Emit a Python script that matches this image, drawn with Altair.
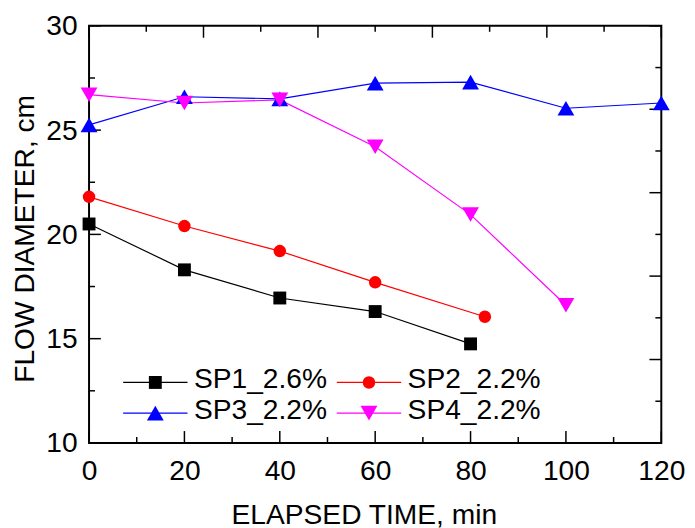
import altair as alt
import pandas as pd

# ---------------- data ----------------
sp1_time = [0, 20, 40, 60, 80]
sp1_diam = [20.5, 18.3, 16.95, 16.3, 14.75]
sp2_time = [0, 20, 40, 60, 83]
sp2_diam = [21.8, 20.4, 19.2, 17.7, 16.05]
sp3_time = [0, 20, 40, 60, 80, 100, 120]
sp3_diam = [25.25, 26.6, 26.5, 27.25, 27.3, 26.05, 26.3]
sp4_time = [0, 20, 40, 60, 80, 100]
sp4_diam = [26.7, 26.3, 26.45, 24.2, 20.95, 16.6]

series_names = ["SP1_2.6%", "SP2_2.2%", "SP3_2.2%", "SP4_2.2%"]

x_ticks_major = [0, 20, 40, 60, 80, 100, 120]
x_ticks_minor = [10, 30, 50, 70, 90, 110]
y_ticks_major = [10, 15, 20, 25, 30]
y_ticks_minor = [12.5, 17.5, 22.5, 27.5]
top_ticks_major = [0, 24, 48, 72, 96, 120]
top_ticks_minor = [12, 36, 60, 84, 108]
right_ticks_major = [10, 14, 18, 22, 26, 30]
right_ticks_minor = [12, 16, 20, 24, 28]

# ---------------- styles ----------------
colors = ["#000000", "#ff0000", "#0000ff", "#ff00ff"]
marker_shapes = ["square", "circle", "triangle-up", "triangle-down"]
marker_sizes = [170, 160, 290, 290]
W, H = 579, 422
FONT = "Liberation Sans"
FS = 28.5

# legend layout (in axis units, placed through the chart's own scales)
LEG_X0 = 13.9        # marker centre of first column (min)
LEG_COL_STEP = 44.8  # distance between columns (min)
LEG_HALF_LINE = 6.75 # half length of the legend line sample (min)
LEG_TEXT_GAP = 8.1   # marker centre -> label start (min)
LEG_Y0 = 12.9        # first row (cm)
LEG_ROW_STEP = 1.47  # row spacing (cm)

rows = []
for name, ts, ds in zip(series_names,
                        [sp1_time, sp2_time, sp3_time, sp4_time],
                        [sp1_diam, sp2_diam, sp3_diam, sp4_diam]):
    for t, d in zip(ts, ds):
        rows.append({"series": name, "time": t, "diam": d})
df = pd.DataFrame(rows)

leg_rows = []
for i, name in enumerate(series_names):
    cx = LEG_X0 + (i % 2) * LEG_COL_STEP
    cy = LEG_Y0 - (i // 2) * LEG_ROW_STEP
    leg_rows.append({"series": name, "mx": cx, "x0": cx - LEG_HALF_LINE,
                     "x1": cx + LEG_HALF_LINE, "tx": cx + LEG_TEXT_GAP, "ly": cy})
leg_df = pd.DataFrame(leg_rows)

xscale = alt.Scale(domain=[0, 120], nice=False, zero=False)
yscale = alt.Scale(domain=[10, 30], nice=False, zero=False)
color_scale = alt.Scale(domain=series_names, range=colors)

x_axis = alt.Axis(values=x_ticks_major, ticks=False, domain=False, grid=False,
                  labelFlush=False, labelFont=FONT, labelFontSize=FS, labelColor="black",
                  labelPadding=14,
                  title="ELAPSED TIME, min", titleFont=FONT, titleFontSize=FS,
                  titleFontWeight="normal", titleColor="black",
                  titleX=278, titleY=82, titleBaseline="alphabetic", titleAlign="center")
y_axis = alt.Axis(values=y_ticks_major, ticks=False, domain=False, grid=False,
                  labelFlush=False, labelFont=FONT, labelFontSize=FS, labelColor="black",
                  labelPadding=12,
                  title="FLOW DIAMETER, cm", titleFont=FONT, titleFontSize=FS,
                  titleFontWeight="normal", titleColor="black",
                  titleX=-56, titleY=215, titleAngle=270, titleBaseline="alphabetic",
                  titleAlign="center")

lines = alt.Chart(df).mark_line(strokeWidth=1.2).encode(
    x=alt.X("time:Q", scale=xscale, axis=x_axis),
    y=alt.Y("diam:Q", scale=yscale, axis=y_axis),
    color=alt.Color("series:N", scale=color_scale, legend=None),
    order="time:Q",
)
layers = [lines]


def yticks(vals, x0, x1):
    return alt.Chart(pd.DataFrame({"v": vals})).mark_rule(color="black", strokeWidth=1.5).encode(
        y=alt.Y("v:Q", scale=yscale, axis=y_axis), x=alt.value(x0), x2=alt.value(x1))


def xticks(vals, y0, y1):
    return alt.Chart(pd.DataFrame({"v": vals})).mark_rule(color="black", strokeWidth=1.5).encode(
        x=alt.X("v:Q", scale=xscale, axis=x_axis), y=alt.value(y0), y2=alt.value(y1))


layers += [
    yticks(y_ticks_major, 0, 12), yticks(y_ticks_minor, 0, 6),
    yticks(right_ticks_major, W - 12, W), yticks(right_ticks_minor, W - 6, W),
    xticks(x_ticks_major, H, H - 12), xticks(x_ticks_minor, H, H - 6),
    xticks(top_ticks_major, 0, 12), xticks(top_ticks_minor, 0, 6),
]

for i, name in enumerate(series_names):
    pts = alt.Chart(df).transform_filter(alt.datum.series == name).mark_point(
        filled=True, opacity=1, shape=marker_shapes[i], size=marker_sizes[i]
    ).encode(
        x=alt.X("time:Q", scale=xscale, axis=x_axis),
        y=alt.Y("diam:Q", scale=yscale, axis=y_axis),
        color=alt.Color("series:N", scale=color_scale, legend=None),
    )
    layers.append(pts)

# ---------------- legend ----------------
leg_lines = alt.Chart(leg_df).mark_rule(strokeWidth=1.2).encode(
    x=alt.X("x0:Q", scale=xscale, axis=x_axis),
    x2="x1:Q",
    y=alt.Y("ly:Q", scale=yscale, axis=y_axis),
    color=alt.Color("series:N", scale=color_scale, legend=None),
)
layers.append(leg_lines)

for i, name in enumerate(series_names):
    lm = alt.Chart(leg_df).transform_filter(alt.datum.series == name).mark_point(
        filled=True, opacity=1, shape=marker_shapes[i], size=marker_sizes[i]
    ).encode(
        x=alt.X("mx:Q", scale=xscale, axis=x_axis),
        y=alt.Y("ly:Q", scale=yscale, axis=y_axis),
        color=alt.Color("series:N", scale=color_scale, legend=None),
    )
    layers.append(lm)

leg_text = alt.Chart(leg_df).mark_text(
    align="left", baseline="middle", dy=-3, font=FONT, fontSize=FS, color="black"
).encode(
    x=alt.X("tx:Q", scale=xscale, axis=x_axis),
    y=alt.Y("ly:Q", scale=yscale, axis=y_axis),
    text="series:N",
)
layers.append(leg_text)

chart = alt.layer(*layers).properties(
    width=W, height=H,
    padding={"left": 82, "top": 15, "right": 26, "bottom": 83},
    autosize=alt.AutoSizeParams(type="none"),
).configure_view(stroke="black", strokeWidth=2)

chart.save("out.html", embed_options={"renderer": "svg", "actions": False})
